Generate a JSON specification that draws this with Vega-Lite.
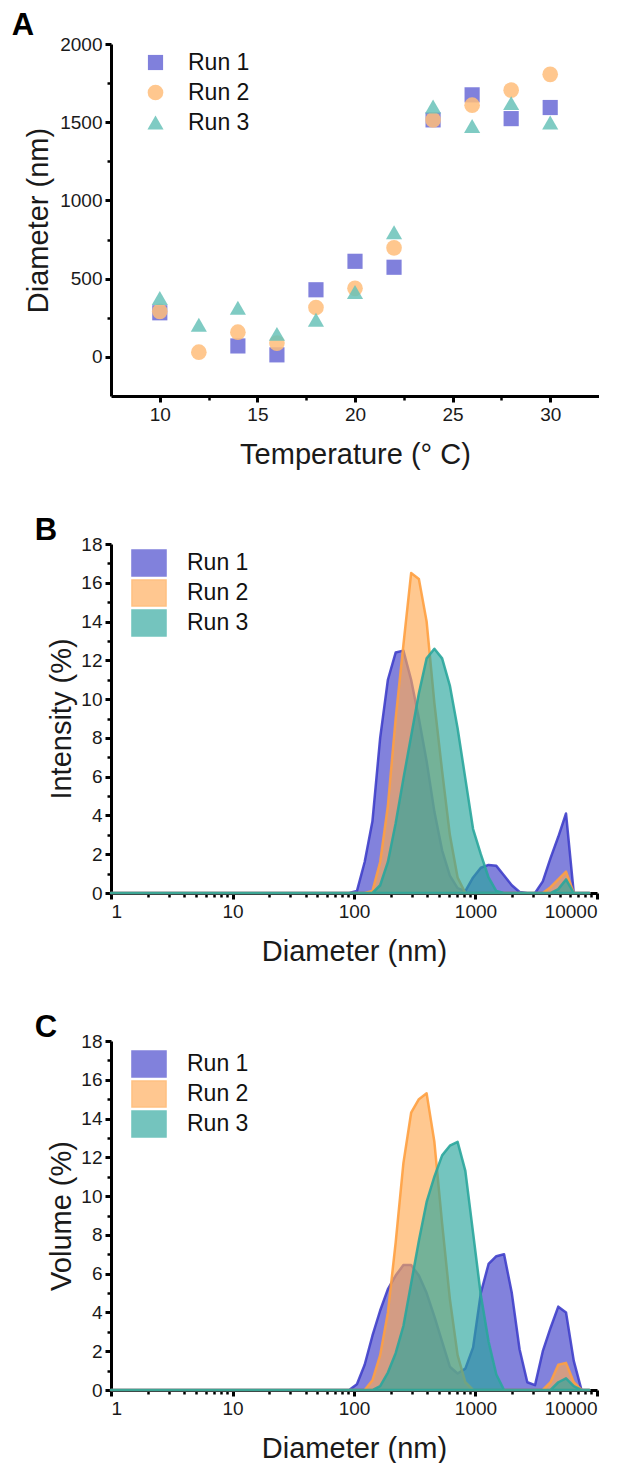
{
  "$schema": "https://vega.github.io/schema/vega-lite/v6.json",
  "padding": {"left": 11, "top": 10, "right": 0, "bottom": 0},
  "spacing": 46,
  "resolve": {
    "scale": {"color": "independent", "fill": "independent", "stroke": "independent", "shape": "independent", "size": "independent"},
    "legend": {"color": "independent", "fill": "independent", "stroke": "independent", "shape": "independent", "size": "independent"}
  },
  "config": {
    "font": "Liberation Sans",
    "view": {"stroke": null},
    "axis": {
      "grid": false,
      "domainColor": "#000000",
      "domainWidth": 3,
      "tickColor": "#000000",
      "labelColor": "#1a1a1a",
      "labelFontSize": 19,
      "labelFont": "Liberation Sans",
      "titleFont": "Liberation Sans",
      "titleFontSize": 29,
      "titleFontWeight": "normal",
      "titleColor": "#1a1a1a",
      "labelOverlap": false,
      "labelPadding": 3
    },
    "legend": {
      "labelFont": "Liberation Sans",
      "labelFontSize": 23,
      "labelColor": "#111111",
      "padding": 0
    },
    "title": {"font": "Liberation Sans", "fontSize": 31, "fontWeight": "bold", "color": "#000000", "anchor": "start", "frame": "bounds"}
  },
  "vconcat": [
    {
      "title": {"text": "A", "dx": -13, "offset": -7},
      "width": 488,
      "height": 352,
      "data": {"values": [
        {"temp": 10, "run": "Run 1", "diam": 282},
        {"temp": 14, "run": "Run 1", "diam": 70},
        {"temp": 16, "run": "Run 1", "diam": 13},
        {"temp": 18, "run": "Run 1", "diam": 429},
        {"temp": 20, "run": "Run 1", "diam": 611},
        {"temp": 22, "run": "Run 1", "diam": 573},
        {"temp": 24, "run": "Run 1", "diam": 1515},
        {"temp": 26, "run": "Run 1", "diam": 1675},
        {"temp": 28, "run": "Run 1", "diam": 1523},
        {"temp": 30, "run": "Run 1", "diam": 1594},
        {"temp": 10, "run": "Run 2", "diam": 291},
        {"temp": 12, "run": "Run 2", "diam": 30},
        {"temp": 14, "run": "Run 2", "diam": 158},
        {"temp": 16, "run": "Run 2", "diam": 88},
        {"temp": 18, "run": "Run 2", "diam": 316},
        {"temp": 20, "run": "Run 2", "diam": 438},
        {"temp": 22, "run": "Run 2", "diam": 697},
        {"temp": 24, "run": "Run 2", "diam": 1515},
        {"temp": 26, "run": "Run 2", "diam": 1609},
        {"temp": 28, "run": "Run 2", "diam": 1705},
        {"temp": 30, "run": "Run 2", "diam": 1806},
        {"temp": 10, "run": "Run 3", "diam": 376},
        {"temp": 12, "run": "Run 3", "diam": 205},
        {"temp": 14, "run": "Run 3", "diam": 314},
        {"temp": 16, "run": "Run 3", "diam": 147},
        {"temp": 18, "run": "Run 3", "diam": 237},
        {"temp": 20, "run": "Run 3", "diam": 415},
        {"temp": 22, "run": "Run 3", "diam": 797},
        {"temp": 24, "run": "Run 3", "diam": 1600},
        {"temp": 26, "run": "Run 3", "diam": 1476},
        {"temp": 28, "run": "Run 3", "diam": 1622},
        {"temp": 30, "run": "Run 3", "diam": 1498}
      ]},
      "mark": {"type": "point", "filled": true, "opacity": 0.85},
      "encoding": {
        "x": {"field": "temp", "type": "quantitative",
          "scale": {"domain": [7.5, 32.5], "nice": false, "zero": false},
          "axis": {"title": "Temperature (° C)", "values": [10, 12.5, 15, 17.5, 20, 22.5, 25, 27.5, 30],
            "labelExpr": "datum.value % 5 == 0 ? datum.label : ''",
            "tickSize": {"condition": {"test": "datum.value % 5 == 0", "value": 6}, "value": 4},
            "tickWidth": {"condition": {"test": "datum.value % 5 == 0", "value": 3}, "value": 2.5},
            "titlePadding": 16}},
        "y": {"field": "diam", "type": "quantitative",
          "scale": {"domain": [-250, 2000], "nice": false, "zero": false},
          "axis": {"title": "Diameter (nm)", "values": [0, 250, 500, 750, 1000, 1250, 1500, 1750, 2000],
            "labelExpr": "datum.value % 500 == 0 ? datum.label : ''",
            "format": "d",
            "tickSize": {"condition": {"test": "datum.value % 500 == 0", "value": 6}, "value": 4},
            "tickWidth": {"condition": {"test": "datum.value % 500 == 0", "value": 3}, "value": 2.5},
            "titlePadding": 6}},
        "size": {"field": "run", "type": "nominal",
          "scale": {"domain": ["Run 1", "Run 2", "Run 3"], "range": [230, 260, 330]},
          "legend": null},
        "color": {"field": "run", "type": "nominal",
          "scale": {"domain": ["Run 1", "Run 2", "Run 3"], "range": ["#6a6ad6", "#ffbd7a", "#68c2b9"]},
          "legend": {"title": null, "orient": "none", "legendX": 33, "legendY": 7, "rowPadding": 6, "labelOffset": 21, "symbolSize": 260}},
        "shape": {"field": "run", "type": "nominal",
          "scale": {"domain": ["Run 1", "Run 2", "Run 3"], "range": ["square", "circle", "triangle-up"]},
          "legend": {"title": null, "orient": "none", "legendX": 33, "legendY": 7, "rowPadding": 6, "labelOffset": 21, "symbolSize": 260}}
      }
    },
    {
      "title": {"text": "B", "dx": -13, "offset": -12},
      "width": 486,
      "height": 349,
      "data": {"values": [
        {"d": 1, "run": "Run 1", "v": 0}, {"d": 91.28, "run": "Run 1", "v": 0}, {"d": 105.7, "run": "Run 1", "v": 0.1}, {"d": 122.4, "run": "Run 1", "v": 1.6}, {"d": 141.8, "run": "Run 1", "v": 3.7}, {"d": 164.2, "run": "Run 1", "v": 8.0}, {"d": 190.1, "run": "Run 1", "v": 11.0}, {"d": 220.2, "run": "Run 1", "v": 12.4}, {"d": 255.0, "run": "Run 1", "v": 12.5}, {"d": 295.3, "run": "Run 1", "v": 11.0}, {"d": 342.0, "run": "Run 1", "v": 9.0}, {"d": 396.1, "run": "Run 1", "v": 6.8}, {"d": 458.7, "run": "Run 1", "v": 4.2}, {"d": 531.2, "run": "Run 1", "v": 2.2}, {"d": 615.1, "run": "Run 1", "v": 0.9}, {"d": 712.4, "run": "Run 1", "v": 0.25}, {"d": 825.0, "run": "Run 1", "v": 0.1}, {"d": 955.4, "run": "Run 1", "v": 0.8}, {"d": 1106, "run": "Run 1", "v": 1.3}, {"d": 1281, "run": "Run 1", "v": 1.45}, {"d": 1484, "run": "Run 1", "v": 1.4}, {"d": 1718, "run": "Run 1", "v": 0.9}, {"d": 1990, "run": "Run 1", "v": 0.4}, {"d": 2305, "run": "Run 1", "v": 0.05}, {"d": 2669, "run": "Run 1", "v": 0}, {"d": 3091, "run": "Run 1", "v": 0}, {"d": 3580, "run": "Run 1", "v": 0.6}, {"d": 4145, "run": "Run 1", "v": 1.8}, {"d": 4801, "run": "Run 1", "v": 2.9}, {"d": 5560, "run": "Run 1", "v": 4.1}, {"d": 6439, "run": "Run 1", "v": 0}, {"d": 8635, "run": "Run 1", "v": 0},
        {"d": 1, "run": "Run 2", "v": 0}, {"d": 122.4, "run": "Run 2", "v": 0}, {"d": 141.8, "run": "Run 2", "v": 0.1}, {"d": 164.2, "run": "Run 2", "v": 1.6}, {"d": 190.1, "run": "Run 2", "v": 4.5}, {"d": 220.2, "run": "Run 2", "v": 9.0}, {"d": 255.0, "run": "Run 2", "v": 12.8}, {"d": 295.3, "run": "Run 2", "v": 16.5}, {"d": 342.0, "run": "Run 2", "v": 16.2}, {"d": 396.1, "run": "Run 2", "v": 14.0}, {"d": 458.7, "run": "Run 2", "v": 9.8}, {"d": 531.2, "run": "Run 2", "v": 6.3}, {"d": 615.1, "run": "Run 2", "v": 3.0}, {"d": 712.4, "run": "Run 2", "v": 0.8}, {"d": 825.0, "run": "Run 2", "v": 0}, {"d": 3580, "run": "Run 2", "v": 0}, {"d": 4145, "run": "Run 2", "v": 0.3}, {"d": 4801, "run": "Run 2", "v": 0.7}, {"d": 5560, "run": "Run 2", "v": 1.1}, {"d": 6439, "run": "Run 2", "v": 0}, {"d": 8635, "run": "Run 2", "v": 0},
        {"d": 1, "run": "Run 3", "v": 0}, {"d": 141.8, "run": "Run 3", "v": 0}, {"d": 164.2, "run": "Run 3", "v": 0.4}, {"d": 190.1, "run": "Run 3", "v": 1.6}, {"d": 220.2, "run": "Run 3", "v": 3.6}, {"d": 255.0, "run": "Run 3", "v": 5.9}, {"d": 295.3, "run": "Run 3", "v": 8.1}, {"d": 342.0, "run": "Run 3", "v": 10.3}, {"d": 396.1, "run": "Run 3", "v": 12.1}, {"d": 458.7, "run": "Run 3", "v": 12.6}, {"d": 531.2, "run": "Run 3", "v": 12.1}, {"d": 615.1, "run": "Run 3", "v": 10.7}, {"d": 712.4, "run": "Run 3", "v": 8.5}, {"d": 825.0, "run": "Run 3", "v": 5.9}, {"d": 955.4, "run": "Run 3", "v": 3.3}, {"d": 1106, "run": "Run 3", "v": 2.0}, {"d": 1281, "run": "Run 3", "v": 0.8}, {"d": 1484, "run": "Run 3", "v": 0.1}, {"d": 1718, "run": "Run 3", "v": 0}, {"d": 4145, "run": "Run 3", "v": 0}, {"d": 4801, "run": "Run 3", "v": 0.2}, {"d": 5560, "run": "Run 3", "v": 0.7}, {"d": 6439, "run": "Run 3", "v": 0}, {"d": 8635, "run": "Run 3", "v": 0}
      ]},
      "mark": {"type": "area", "fillOpacity": 0.65, "strokeWidth": 2.5, "strokeOpacity": 0.9, "strokeJoin": "round"},
      "encoding": {
        "x": {"field": "d", "type": "quantitative",
          "scale": {"type": "log", "domain": [1, 10000], "nice": false},
          "axis": {"title": "Diameter (nm)", "format": "d",
            "values": [1, 2, 3, 4, 5, 6, 7, 8, 9, 10, 20, 30, 40, 50, 60, 70, 80, 90, 100, 200, 300, 400, 500, 600, 700, 800, 900, 1000, 2000, 3000, 4000, 5000, 6000, 7000, 8000, 9000, 10000],
            "labelExpr": "(datum.value == 1 || datum.value == 10 || datum.value == 100 || datum.value == 1000 || datum.value == 10000) ? datum.label : ''",
            "tickSize": {"condition": {"test": "datum.value == 1 || datum.value == 10 || datum.value == 100 || datum.value == 1000 || datum.value == 10000", "value": 6}, "value": 4},
            "tickWidth": {"condition": {"test": "datum.value == 1 || datum.value == 10 || datum.value == 100 || datum.value == 1000 || datum.value == 10000", "value": 3}, "value": 2.5},
            "titlePadding": 16}},
        "y": {"field": "v", "type": "quantitative", "stack": null,
          "scale": {"domain": [0, 18], "nice": false},
          "axis": {"title": "Intensity (%)", "values": [0, 1, 2, 3, 4, 5, 6, 7, 8, 9, 10, 11, 12, 13, 14, 15, 16, 17, 18],
            "labelExpr": "datum.value % 2 == 0 ? datum.label : ''",
            "tickSize": {"condition": {"test": "datum.value % 2 == 0", "value": 6}, "value": 4},
            "tickWidth": {"condition": {"test": "datum.value % 2 == 0", "value": 3}, "value": 2.5},
            "titlePadding": 4}},
        "fill": {"field": "run", "type": "nominal",
          "scale": {"domain": ["Run 1", "Run 2", "Run 3"], "range": ["#3f3fca", "#ffaa55", "#2aa69c"]},
          "legend": {"title": null, "orient": "none", "legendX": 24, "legendY": 5, "rowPadding": -2, "labelOffset": 24, "symbolSize": 676, "symbolType": "M-1.31,-1L1.31,-1L1.31,1L-1.31,1Z", "symbolOpacity": 0.65,
            "encode": {"symbols": {"update": {"stroke": {"value": "#444444"}, "strokeWidth": {"value": 1.5}}}}}},
        "stroke": {"field": "run", "type": "nominal",
          "scale": {"domain": ["Run 1", "Run 2", "Run 3"], "range": ["#3f3fca", "#ffa040", "#2aa69c"]},
          "legend": null}
      }
    },
    {
      "title": {"text": "C", "dx": -13, "offset": -12},
      "width": 486,
      "height": 349,
      "data": {"values": [
        {"d": 1, "run": "Run 1", "v": 0}, {"d": 91.28, "run": "Run 1", "v": 0}, {"d": 105.7, "run": "Run 1", "v": 0.3}, {"d": 122.4, "run": "Run 1", "v": 1.3}, {"d": 141.8, "run": "Run 1", "v": 2.8}, {"d": 164.2, "run": "Run 1", "v": 4.1}, {"d": 190.1, "run": "Run 1", "v": 5.2}, {"d": 220.2, "run": "Run 1", "v": 5.9}, {"d": 255.0, "run": "Run 1", "v": 6.45}, {"d": 295.3, "run": "Run 1", "v": 6.45}, {"d": 342.0, "run": "Run 1", "v": 5.9}, {"d": 396.1, "run": "Run 1", "v": 5.0}, {"d": 458.7, "run": "Run 1", "v": 3.8}, {"d": 531.2, "run": "Run 1", "v": 2.5}, {"d": 615.1, "run": "Run 1", "v": 1.2}, {"d": 712.4, "run": "Run 1", "v": 0.85}, {"d": 825.0, "run": "Run 1", "v": 1.1}, {"d": 955.4, "run": "Run 1", "v": 2.2}, {"d": 1106, "run": "Run 1", "v": 5.0}, {"d": 1281, "run": "Run 1", "v": 6.5}, {"d": 1484, "run": "Run 1", "v": 6.9}, {"d": 1718, "run": "Run 1", "v": 7.0}, {"d": 1990, "run": "Run 1", "v": 5.0}, {"d": 2305, "run": "Run 1", "v": 2.1}, {"d": 2669, "run": "Run 1", "v": 0.4}, {"d": 3091, "run": "Run 1", "v": 0.25}, {"d": 3580, "run": "Run 1", "v": 2.0}, {"d": 4145, "run": "Run 1", "v": 3.2}, {"d": 4801, "run": "Run 1", "v": 4.3}, {"d": 5560, "run": "Run 1", "v": 4.0}, {"d": 6439, "run": "Run 1", "v": 1.5}, {"d": 7456, "run": "Run 1", "v": 0}, {"d": 8635, "run": "Run 1", "v": 0},
        {"d": 1, "run": "Run 2", "v": 0}, {"d": 122.4, "run": "Run 2", "v": 0}, {"d": 141.8, "run": "Run 2", "v": 0.5}, {"d": 164.2, "run": "Run 2", "v": 1.8}, {"d": 190.1, "run": "Run 2", "v": 4.0}, {"d": 220.2, "run": "Run 2", "v": 7.6}, {"d": 255.0, "run": "Run 2", "v": 11.7}, {"d": 295.3, "run": "Run 2", "v": 14.3}, {"d": 342.0, "run": "Run 2", "v": 15.0}, {"d": 396.1, "run": "Run 2", "v": 15.3}, {"d": 458.7, "run": "Run 2", "v": 12.8}, {"d": 531.2, "run": "Run 2", "v": 8.6}, {"d": 615.1, "run": "Run 2", "v": 4.7}, {"d": 712.4, "run": "Run 2", "v": 1.8}, {"d": 825.0, "run": "Run 2", "v": 0.4}, {"d": 955.4, "run": "Run 2", "v": 0}, {"d": 3580, "run": "Run 2", "v": 0}, {"d": 4145, "run": "Run 2", "v": 0.4}, {"d": 4801, "run": "Run 2", "v": 1.3}, {"d": 5560, "run": "Run 2", "v": 1.4}, {"d": 6439, "run": "Run 2", "v": 0.4}, {"d": 7456, "run": "Run 2", "v": 0}, {"d": 8635, "run": "Run 2", "v": 0},
        {"d": 1, "run": "Run 3", "v": 0}, {"d": 141.8, "run": "Run 3", "v": 0}, {"d": 164.2, "run": "Run 3", "v": 0.2}, {"d": 190.1, "run": "Run 3", "v": 0.9}, {"d": 220.2, "run": "Run 3", "v": 1.9}, {"d": 255.0, "run": "Run 3", "v": 3.3}, {"d": 295.3, "run": "Run 3", "v": 5.5}, {"d": 342.0, "run": "Run 3", "v": 7.7}, {"d": 396.1, "run": "Run 3", "v": 9.7}, {"d": 458.7, "run": "Run 3", "v": 11.0}, {"d": 531.2, "run": "Run 3", "v": 12.1}, {"d": 615.1, "run": "Run 3", "v": 12.6}, {"d": 712.4, "run": "Run 3", "v": 12.8}, {"d": 825.0, "run": "Run 3", "v": 11.3}, {"d": 955.4, "run": "Run 3", "v": 8.1}, {"d": 1106, "run": "Run 3", "v": 4.9}, {"d": 1281, "run": "Run 3", "v": 2.5}, {"d": 1484, "run": "Run 3", "v": 0.8}, {"d": 1718, "run": "Run 3", "v": 0}, {"d": 4145, "run": "Run 3", "v": 0}, {"d": 4801, "run": "Run 3", "v": 0.4}, {"d": 5560, "run": "Run 3", "v": 0.6}, {"d": 6439, "run": "Run 3", "v": 0.2}, {"d": 7456, "run": "Run 3", "v": 0}, {"d": 8635, "run": "Run 3", "v": 0}
      ]},
      "mark": {"type": "area", "fillOpacity": 0.65, "strokeWidth": 2.5, "strokeOpacity": 0.9, "strokeJoin": "round"},
      "encoding": {
        "x": {"field": "d", "type": "quantitative",
          "scale": {"type": "log", "domain": [1, 10000], "nice": false},
          "axis": {"title": "Diameter (nm)", "format": "d",
            "values": [1, 2, 3, 4, 5, 6, 7, 8, 9, 10, 20, 30, 40, 50, 60, 70, 80, 90, 100, 200, 300, 400, 500, 600, 700, 800, 900, 1000, 2000, 3000, 4000, 5000, 6000, 7000, 8000, 9000, 10000],
            "labelExpr": "(datum.value == 1 || datum.value == 10 || datum.value == 100 || datum.value == 1000 || datum.value == 10000) ? datum.label : ''",
            "tickSize": {"condition": {"test": "datum.value == 1 || datum.value == 10 || datum.value == 100 || datum.value == 1000 || datum.value == 10000", "value": 6}, "value": 4},
            "tickWidth": {"condition": {"test": "datum.value == 1 || datum.value == 10 || datum.value == 100 || datum.value == 1000 || datum.value == 10000", "value": 3}, "value": 2.5},
            "titlePadding": 16}},
        "y": {"field": "v", "type": "quantitative", "stack": null,
          "scale": {"domain": [0, 18], "nice": false},
          "axis": {"title": "Volume (%)", "values": [0, 1, 2, 3, 4, 5, 6, 7, 8, 9, 10, 11, 12, 13, 14, 15, 16, 17, 18],
            "labelExpr": "datum.value % 2 == 0 ? datum.label : ''",
            "tickSize": {"condition": {"test": "datum.value % 2 == 0", "value": 6}, "value": 4},
            "tickWidth": {"condition": {"test": "datum.value % 2 == 0", "value": 3}, "value": 2.5},
            "titlePadding": 4}},
        "fill": {"field": "run", "type": "nominal",
          "scale": {"domain": ["Run 1", "Run 2", "Run 3"], "range": ["#3f3fca", "#ffaa55", "#2aa69c"]},
          "legend": {"title": null, "orient": "none", "legendX": 24, "legendY": 9, "rowPadding": -2, "labelOffset": 24, "symbolSize": 676, "symbolType": "M-1.31,-1L1.31,-1L1.31,1L-1.31,1Z", "symbolOpacity": 0.65,
            "encode": {"symbols": {"update": {"stroke": {"value": "#444444"}, "strokeWidth": {"value": 1.5}}}}}},
        "stroke": {"field": "run", "type": "nominal",
          "scale": {"domain": ["Run 1", "Run 2", "Run 3"], "range": ["#3f3fca", "#ffa040", "#2aa69c"]},
          "legend": null}
      }
    }
  ]
}
